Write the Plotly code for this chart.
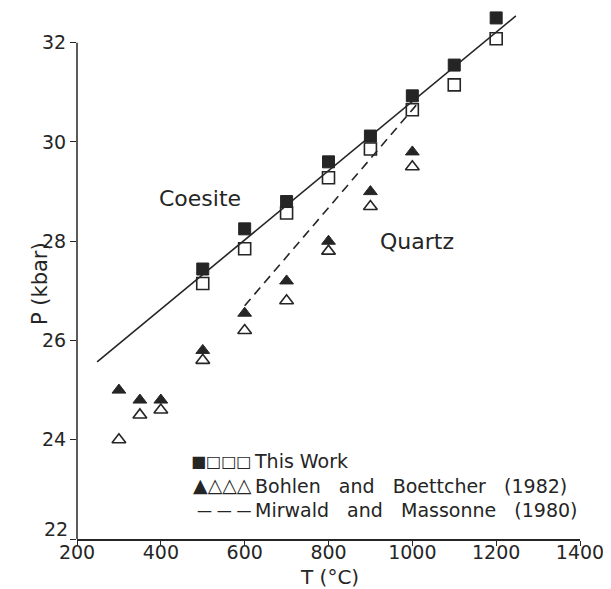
import plotly.graph_objects as go

# This Work (filled = coesite, open = quartz)
tw_T = [500, 600, 700, 800, 900, 1000, 1100, 1200]
tw_filled_P = [27.44, 28.25, 28.8, 29.6, 30.12, 30.93, 31.55, 32.5]
tw_open_P = [27.15, 27.85, 28.57, 29.28, 29.86, 30.65, 31.15, 32.08]

# Bohlen and Boettcher (1982)
bb_T = [300, 350, 400, 500, 600, 700, 800, 900, 1000]
bb_filled_P = [25.0, 24.8, 24.8, 25.8, 26.55, 27.2, 28.0, 29.0, 29.8]
bb_open_P = [24.0, 24.5, 24.6, 25.6, 26.2, 26.8, 27.8, 28.7, 29.5]

# Fitted boundary (this work)
fit_T = [248, 1247]
fit_P = [25.57, 32.54]

# Mirwald and Massonne (1980)
mm_T = [600, 1010]
mm_P = [26.7, 30.75]

x_ticks = [200, 400, 600, 800, 1000, 1200, 1400]
y_ticks = [22, 24, 26, 28, 30, 32]
y_ticktext = ["", "24", "26", "28", "30", "32"]  # "22" drawn raised, as in the original

FONT = "DejaVu Sans"
INK = "#252525"
NB = "\u00a0"

fig = go.Figure()
fig.add_trace(go.Scatter(x=fit_T, y=fit_P, mode="lines",
                         line=dict(color=INK, width=1.6), cliponaxis=False))
fig.add_trace(go.Scatter(x=mm_T, y=mm_P, mode="lines",
                         line=dict(color=INK, width=1.6, dash="9px,6px"), cliponaxis=False))
fig.add_trace(go.Scatter(x=tw_T, y=tw_filled_P, mode="markers", cliponaxis=False,
                         marker=dict(symbol="square", size=12, color=INK,
                                     line=dict(color=INK, width=1))))
fig.add_trace(go.Scatter(x=tw_T, y=tw_open_P, mode="markers", cliponaxis=False,
                         marker=dict(symbol="square-open", size=12, color=INK,
                                     line=dict(color=INK, width=1.6))))
fig.add_trace(go.Scatter(x=bb_T, y=bb_filled_P, mode="markers", cliponaxis=False,
                         marker=dict(symbol="triangle-up", size=12, color=INK,
                                     line=dict(color=INK, width=1))))
fig.add_trace(go.Scatter(x=bb_T, y=bb_open_P, mode="markers", cliponaxis=False,
                         marker=dict(symbol="triangle-up-open", size=12, color=INK,
                                     line=dict(color=INK, width=1.6))))

fig.add_annotation(x=493, y=28.87, text="Coesite", showarrow=False,
                   font=dict(family=FONT, size=22, color=INK))
fig.add_annotation(x=1012, y=28.0, text="Quartz", showarrow=False,
                   font=dict(family=FONT, size=22, color=INK))

# left axis line only up to 32
fig.add_shape(type="line", xref="paper", yref="y", x0=0, x1=0, y0=22, y1=32,
              line=dict(color=INK, width=1.5))

# raised "22" label
fig.add_annotation(xref="paper", yref="y", x=-0.014, y=22.2, text="22",
                   xanchor="right", yanchor="middle", showarrow=False,
                   font=dict(family=FONT, size=19, color=INK))

# legend block (symbols + labels)
sym_text = ("<span style='font-size:16px'>■□□□</span><br>"
            "<span style='font-size:19px'>▲△△△</span><br>"
            "<span style='font-size:15px'>— — —</span>")
G = NB * 2
lab_text = ("This Work<br>"
            f"Bohlen{G} and{G} Boettcher{G} (1982)<br>"
            f"Mirwald{G} and{G} Massonne{G} (1980)")
fig.add_annotation(xref="paper", yref="paper", x=0.352, y=0.1005,
                   xanchor="right", yanchor="middle", align="right",
                   text=sym_text, showarrow=False,
                   font=dict(family=FONT, size=19, color=INK))
fig.add_annotation(xref="paper", yref="paper", x=0.348, y=0.1005,
                   xanchor="left", yanchor="middle", align="left",
                   text=lab_text, showarrow=False,
                   font=dict(family=FONT, size=19, color=INK))

fig.add_annotation(xref="paper", yref="paper", x=0.502, y=-0.0716, text="T (°C)",
                   xanchor="center", yanchor="middle",
                   showarrow=False, font=dict(family=FONT, size=20, color=INK))
fig.add_annotation(xref="paper", yref="paper", x=-0.0736, y=0.482, text="P (kbar)",
                   xanchor="center", yanchor="middle",
                   textangle=-90, showarrow=False, font=dict(family=FONT, size=21, color=INK))

fig.update_layout(
    width=603, height=581,
    margin=dict(l=69, r=31, t=0, b=50),
    plot_bgcolor="white", paper_bgcolor="white",
    showlegend=False,
    font=dict(family=FONT, size=19, color=INK),
    xaxis=dict(range=[200, 1400], tickvals=x_ticks,
               showgrid=False, zeroline=False, showline=True, linecolor=INK, linewidth=1.5,
               ticks="outside", ticklen=5, tickcolor=INK, tickwidth=1.3,
               ticklabelstandoff=-10),
    yaxis=dict(range=[22, 32.7], tickvals=y_ticks, ticktext=y_ticktext,
               showgrid=False, zeroline=False, showline=False,
               ticks="outside", ticklen=6, tickcolor=INK, tickwidth=1.3),
)

fig.write_html("out.html")
